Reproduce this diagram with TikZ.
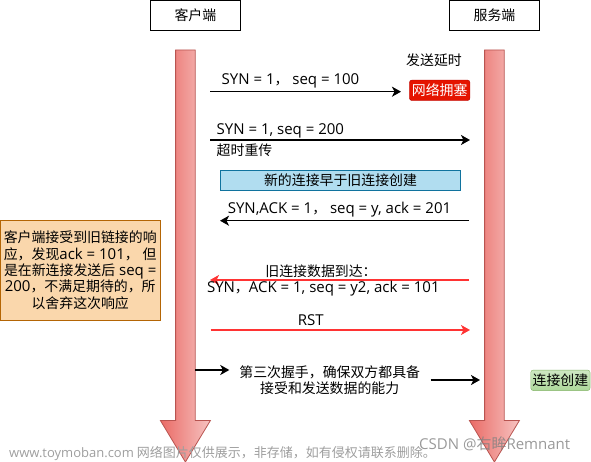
\documentclass[tikz,border=0pt]{standalone}
\usepackage{fontspec}
\setmainfont{Noto Sans CJK SC}
\newfontfamily\enfont{Open Sans}
\newcommand\en[1]{{\enfont\fontsize{15}{16.3}\selectfont #1}}
\usetikzlibrary{arrows.meta}
\definecolor{lifedark}{HTML}{EA6B66}
\definecolor{lifelight}{HTML}{F6C3C1}
\definecolor{lifeline}{HTML}{B85450}
\definecolor{lostred}{HTML}{FF3333}
\definecolor{jamfill}{HTML}{E51400}
\definecolor{jamline}{HTML}{B20000}
\definecolor{notefill}{HTML}{B1DDF0}
\definecolor{noteline}{HTML}{10739E}
\definecolor{oldfill}{HTML}{FAD7AC}
\definecolor{oldline}{HTML}{B46504}
\definecolor{okfill}{HTML}{ADD89A}
\definecolor{okline}{HTML}{82B366}

\begin{document}
\begin{tikzpicture}[x=1pt,y=-1pt,
    every node/.style={font=\fontsize{13.9}{16.3}\selectfont,inner sep=0pt},
    actor/.style={draw=black,line width=0.8pt,minimum width=89.5pt,minimum height=30pt},
    msg/.style={line width=1.6pt,-{Stealth[length=9pt,width=10pt,inset=2.5pt]}},
    lostmsg/.style={msg,draw=lostred}]
  \useasboundingbox (0,0) rectangle (591,462);

  % the two time lines
  \foreach \c in {185.4,494.4}
    \shade[left color=lifedark,right color=lifelight,draw=lifeline,line width=0.8pt]
      (\c-9.8,50)--(\c+9.8,50)--(\c+9.8,420.5)--(\c+25,420.5)--(\c,462)
      --(\c-25,420.5)--(\c-9.8,420.5)--cycle;

  \node[actor] (client) at (195.4,15.4) {客户端};
  \node[actor] (server) at (494.5,15.4) {服务端};

  % first SYN gets stuck
  \node (delay) at (434,60) {发送延时};
  \node[fill=jamfill,draw=jamline,rounded corners=2.5pt,text=white,
        minimum width=60.5pt,minimum height=20.5pt] (jam) at (439.7,90.3) {网络拥塞};
  \coordinate (c1) at (210,91.7);
  \coordinate (s1) at (401,91.7);
  \draw[msg] (c1)--(s1);
  \node (m1) at (290.5,80.7) {\en{SYN = 1}，\en{\ seq = 100}};

  % resend
  \coordinate (c2) at (210,140);
  \coordinate (s2) at (470,140);
  \draw[msg] (c2)--(s2);
  \node[anchor=west] (m2) at (216.5,130.7) {\en{SYN = 1, seq = 200}};
  \node[anchor=west] (m2b) at (216.5,150) {超时重传};

  \node[fill=notefill,draw=noteline,line width=0.8pt,
        minimum width=240pt,minimum height=20.3pt] (newfirst) at (340.5,180.6) {新的连接早于旧连接创建};

  \coordinate (s3) at (469,220.7);
  \coordinate (c3) at (220,220.7);
  \draw[msg] (s3)--(c3);
  \node (m3) at (339.5,210) {\en{SYN,ACK = 1}，\en{\ seq = y, ack = 201}};

  % old data arrives late
  \coordinate (s4) at (469,280);
  \coordinate (c4) at (210,280);
  \draw[lostmsg] (s4)--(c4);
  \node (m4) at (321,271.7) {旧连接数据到达：};
  \node (m4b) at (323.3,289) {\en{SYN}，\en{ACK = 1, seq = y2, ack = 101}};

  \node[fill=oldfill,draw=oldline,line width=0.8pt,align=center,
        minimum width=160.5pt,minimum height=100pt] (drop) at (80.2,270.3)
        {客户端接受到旧链接的响\\应，发现\en{ack = 101}，\en{ }但\\是在新连接发送后\en{ seq =}\\\en{200}，不满足期待的，所\\以舍弃这次响应};

  \coordinate (c5) at (210.7,330);
  \coordinate (s5) at (470,330);
  \draw[lostmsg] (c5)--(s5);
  \node (m5) at (310.7,320) {\en{RST}};

  % third handshake
  \coordinate (c6) at (195,370);
  \coordinate (t6) at (229.3,370);
  \draw[msg] (c6)--(t6);
  \node[align=center] (m6) at (329.7,380) {第三次握手，确保双方都具备\\接受和发送数据的能力};
  \coordinate (t7) at (430.7,380);
  \coordinate (s7) at (480,380);
  \draw[msg] (t7)--(s7);
  \node[top color=okfill!60,bottom color=okfill,draw=okline,rounded corners=2.5pt,
        minimum width=59.3pt,minimum height=20.5pt] (done) at (560.4,380.3) {连接创建};

  \node[anchor=west,text=black!38,font=\fontsize{13}{13}\selectfont] (wm1) at (9,453.3)
        {{\enfont www.toymoban.com} 网络图片仅供展示，非存储，如有侵权请联系删除。};
  \node[anchor=west,text=black!50,opacity=0.8,font=\fontsize{15}{15}\selectfont] (wm2) at (419,444.3)
        {{\enfont CSDN @}右眸{\enfont Remnant}};
\end{tikzpicture}
\end{document}
